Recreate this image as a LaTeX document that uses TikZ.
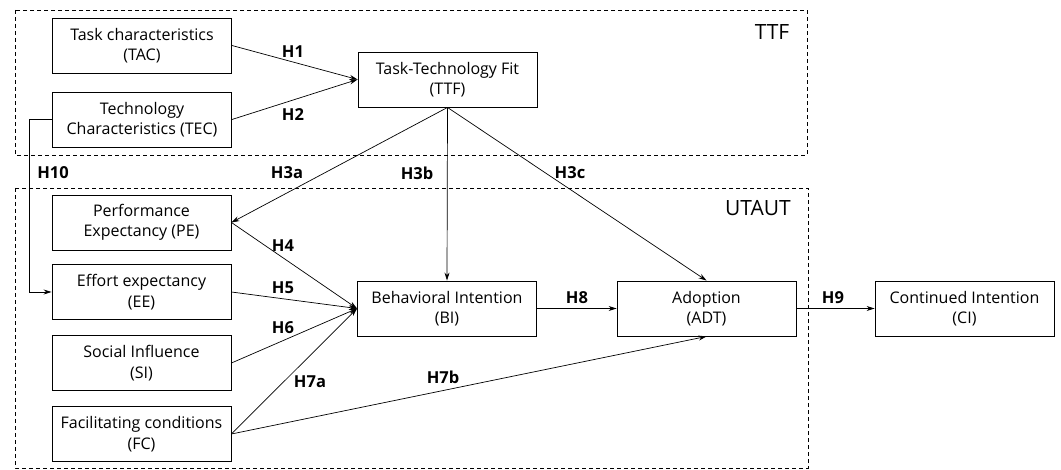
\documentclass[tikz,border=0pt]{standalone}
\usepackage{fontspec}
\setmainfont{Open Sans}
\usetikzlibrary{arrows.meta}
\begin{document}
\begin{tikzpicture}[x=1pt,y=-1pt,
  box/.style={draw,line width=0.9pt,minimum width=179pt,minimum height=55pt,align=center,inner sep=0pt,font=\fontsize{16}{20.5}\selectfont},
  hlab/.style={font=\bfseries\fontsize{16.5}{18}\selectfont,inner sep=0pt},
  grp/.style={draw,dash pattern=on 4pt off 3pt,line width=0.7pt},
  arr/.style={-{Stealth[length=8pt,width=5pt]},line width=0.7pt}]
\useasboundingbox (0,0) rectangle (1061,470);
\draw[grp] (15,10) rectangle (807,155);
\draw[grp] (15,188) rectangle (808,468);
\node[font=\fontsize{21}{24}\selectfont,inner sep=0pt] (ttflab) at (772,32) {TTF};
\node[font=\fontsize{21}{24}\selectfont,inner sep=0pt] (utautlab) at (758,208) {UTAUT};
\node[box] (TAC) at (142,45.5) {Task characteristics\\(TAC)};
\node[box] (TEC) at (142,119.5) {Technology\\Characteristics (TEC)};
\node[box] (TTF) at (447.5,79.5) {Task-Technology Fit\\(TTF)};
\node[box] (PE) at (141.5,222.5) {Performance\\Expectancy (PE)};
\node[box] (EE) at (141.5,292) {Effort expectancy\\(EE)};
\node[box] (SI) at (141.5,363) {Social Influence\\(SI)};
\node[box] (FC) at (141.5,434) {Facilitating conditions\\(FC)};
\node[box] (BI) at (447,308.5) {Behavioral Intention\\(BI)};
\node[box] (ADT) at (706.5,308.5) {Adoption\\(ADT)};
\node[box] (CI) at (964.5,308.5) {Continued Intention\\(CI)};
\coordinate (c1) at (29,119.5);
\coordinate (c2) at (29,292);
\draw[arr] (TAC.east) -- (TTF.west);
\draw[arr] (TEC.east) -- (TTF.west);
\draw[arr] (TEC.west) -- (c1) -- (c2) -- (EE.west);
\draw[arr] (TTF.south) -- (PE.east);
\draw[arr] (TTF.south) -- (BI.north);
\draw[arr] (TTF.south) -- (ADT.north);
\draw[arr] (PE.east) -- (BI.west);
\draw[arr] (EE.east) -- (BI.west);
\draw[arr] (SI.east) -- (BI.west);
\draw[arr] (FC.east) -- (BI.west);
\draw[arr] (FC.east) -- (ADT.south);
\draw[arr] (BI.east) -- (ADT.west);
\draw[arr] (ADT.east) -- (CI.west);
\node[hlab] (h1) at (293,52) {H1};
\node[hlab] (h2) at (293,115) {H2};
\node[hlab] (h10) at (53,173) {H10};
\node[hlab] (h3a) at (287,173) {H3a};
\node[hlab] (h3b) at (417,173) {H3b};
\node[hlab] (h3c) at (570,173) {H3c};
\node[hlab] (h4) at (283,246) {H4};
\node[hlab] (h5) at (283,288) {H5};
\node[hlab] (h6) at (283,328) {H6};
\node[hlab] (h7a) at (310,382) {H7a};
\node[hlab] (h7b) at (443,377) {H7b};
\node[hlab] (h8) at (577,298) {H8};
\node[hlab] (h9) at (833,298) {H9};
\end{tikzpicture}
\end{document}
